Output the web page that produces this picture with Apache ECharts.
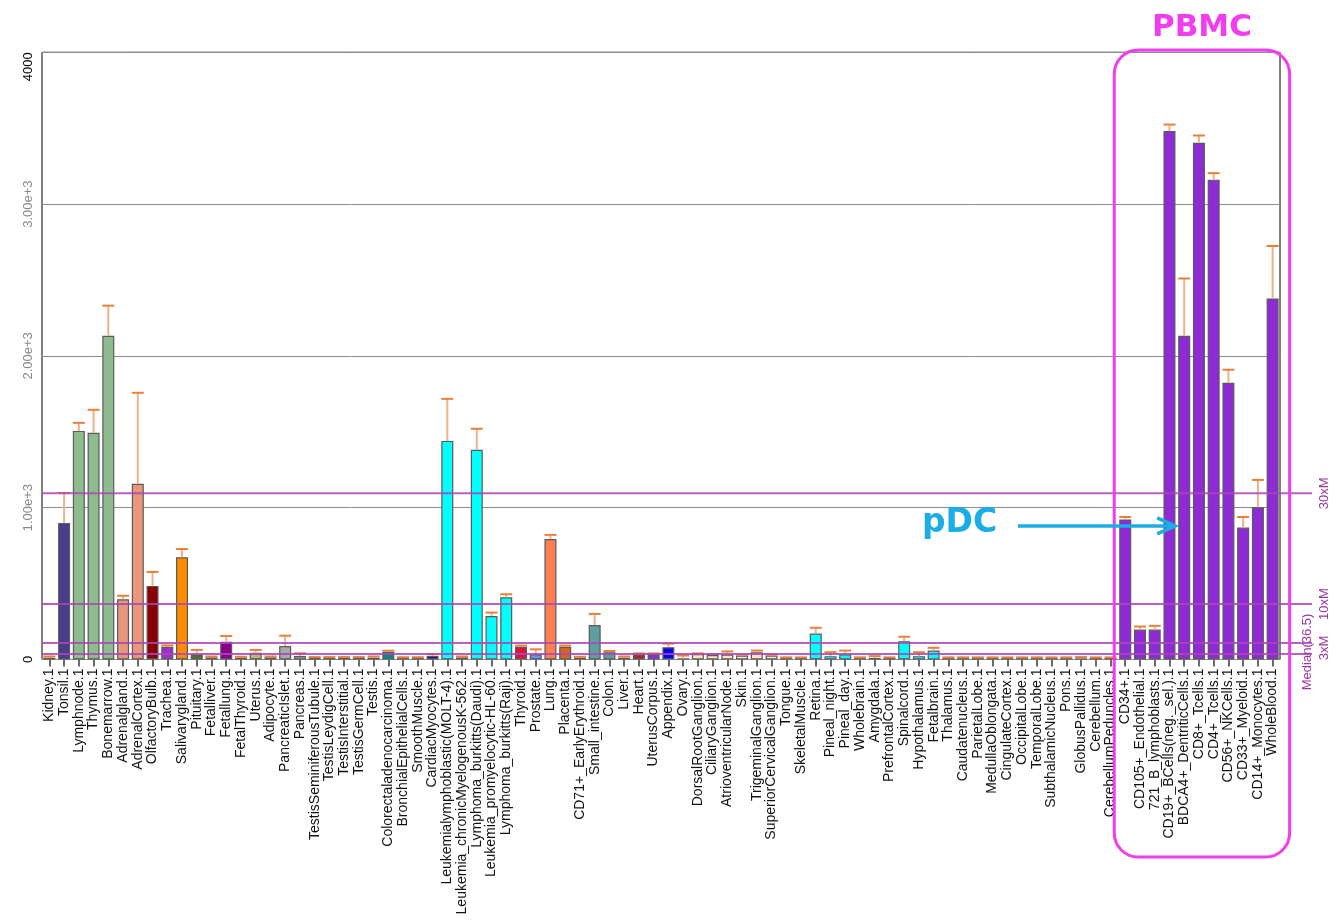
<!DOCTYPE html>
<html><head><meta charset="utf-8">
<script src="https://cdn.jsdelivr.net/npm/echarts@6/dist/echarts.min.js"></script>
<style>html,body{margin:0;padding:0;background:#fff}#c{width:1339px;height:920px}</style>
</head><body><div id="c"></div>
<script>
const categories = ["Kidney.1","Tonsil.1","Lymphnode.1","Thymus.1","Bonemarrow.1","Adrenalgland.1","AdrenalCortex.1","OlfactoryBulb.1","Trachea.1","Salivarygland.1","Pituitary.1","Fetalliver.1","Fetallung.1","FetalThyroid.1","Uterus.1","Adipocyte.1","PancreaticIslet.1","Pancreas.1","TestisSeminiferousTubule.1","TestisLeydigCell.1","TestisInterstitial.1","TestisGermCell.1","Testis.1","Colorectaladenocarcinoma.1","BronchialEpithelialCells.1","SmoothMuscle.1","CardiacMyocytes.1","Leukemialymphoblastic(MOLT-4).1","Leukemia_chronicMyelogenousK-562.1","Lymphoma_burkitts(Daudi).1","Leukemia_promyelocytic-HL-60.1","Lymphoma_burkitts(Raji).1","Thyroid.1","Prostate.1","Lung.1","Placenta.1","CD71+_EarlyErythroid.1","Small_intestine.1","Colon.1","Liver.1","Heart.1","UterusCorpus.1","Appendix.1","Ovary.1","DorsalRootGanglion.1","CiliaryGanglion.1","AtrioventricularNode.1","Skin.1","TrigeminalGanglion.1","SuperiorCervicalGanglion.1","Tongue.1","SkeletalMuscle.1","Retina.1","Pineal_night.1","Pineal_day.1","Wholebrain.1","Amygdala.1","PrefrontalCortex.1","Spinalcord.1","Hypothalamus.1","Fetalbrain.1","Thalamus.1","Caudatenucleus.1","ParietalLobe.1","MedullaOblongata.1","CingulateCortex.1","OccipitalLobe.1","TemporalLobe.1","SubthalamicNucleus.1","Pons.1","GlobusPallidus.1","Cerebellum.1","CerebellumPeduncles.1","CD34+.1","CD105+_Endothelial.1","721_B_lymphoblasts.1","CD19+_BCells(neg._sel.).1","BDCA4+_DentriticCells.1","CD8+_Tcells.1","CD4+_Tcells.1","CD56+_NKCells.1","CD33+_Myeloid.1","CD14+_Monocytes.1","WholeBlood.1"];

const values = [12,900,1506,1493,2133,397,1157,485,84,674,34,14,117,12,45,14,89,23,10,10,10,10,12,51,10,10,23,1440,14,1381,287,410,84,34,794,84,12,227,48,12,34,34,81,8,36,30,33,26,48,26,10,10,171,22,35,10,10,10,121,22,59,10,10,10,10,10,10,10,10,10,8,10,10,923,197,197,3481,2132,3404,3161,1823,869,1003,2378];

const upperValues = [20,1097,1559,1645,2331,420,1757,577,93,728,63,20,155,18,63,20,157,41,16,16,16,16,20,58,15,15,34,1717,20,1520,309,430,92,67,821,92,18,300,56,20,40,40,105,26,40,36,53,32,59,32,14,14,209,48,59,14,22,14,150,48,77,14,14,14,14,14,14,14,14,14,16,14,14,939,217,222,3524,2510,3452,3204,1909,939,1183,2724];

const barColors = ["#6B4E2E","#483D8B","#8FBC8F","#8FBC8F","#8FBC8F","#E9967A","#E9967A","#8B0000","#9932CC","#FF8C00","#556B2F","#8B2252","#8B008B","#8B008B","#BDB76B","#3D7F6F","#A9A9A9","#A9A9A9","#8B6B3D","#8B6B3D","#8B6B3D","#8B6B3D","#8B6B3D","#008B8B","#2F4F4F","#483D8B","#00008B","#00FFFF","#2F6F5F","#00FFFF","#00FFFF","#00FFFF","#DC143C","#6495ED","#FF7F50","#D2691E","#556B2F","#5F9EA0","#5F9EA0","#8B5A2B","#A52A2A","#8A2BE2","#0000FF","#000000","#FFE4C4","#FFE4C4","#FFE4C4","#FFE4C4","#FFE4C4","#FFE4C4","#556B2F","#556B2F","#00FFFF","#00FFFF","#00FFFF","#2F4F4F","#2F4F4F","#2F4F4F","#00FFFF","#00FFFF","#00FFFF","#2F4F4F","#2F4F4F","#2F4F4F","#2F4F4F","#2F4F4F","#2F4F4F","#2F4F4F","#2F4F4F","#2F4F4F","#2F4F4F","#2F4F4F","#2F4F4F","#8E2BD6","#8E2BD6","#8E2BD6","#8E2BD6","#8E2BD6","#8E2BD6","#8E2BD6","#8E2BD6","#8E2BD6","#8E2BD6","#8E2BD6"];

const yTickValues = [0,1000,2000,3000,4000];
const yTickLabels = ["0","1.00e+3","2.00e+3","3.00e+3","4000"];
const thresholds = [36.5,109.5,365,1095];
const thresholdLabels = ["Median(36.5)","3xM","10xM","30xM"];
const pbmcFirst = "CD34+.1", pbmcLast = "WholeBlood.1", pdcTarget = "BDCA4+_DentriticCells.1";
const pdcArrowValue = 880;

const chart = echarts.init(document.getElementById('c'), null, {renderer:'canvas'});
const FONT = "'Liberation Sans', Arial, sans-serif";

chart.setOption({
  animation:false,
  backgroundColor:'#fff',
  textStyle:{fontFamily:FONT},
  grid:{left:42, right:59, top:52.3, bottom:260.5, show:true, borderColor:'#000', borderWidth:1, backgroundColor:'transparent'},
  xAxis:{
    type:'category', data:categories, boundaryGap:true,
    axisLine:{show:false},
    axisTick:{show:true, alignWithLabel:true, length:7, lineStyle:{color:'#6a6a6a', width:2}},
    axisLabel:{interval:0, rotate:90, fontSize:14, color:'#111', margin:9, fontFamily:FONT}
  },
  yAxis:{
    type:'value', min:0, max:4000, interval:1000,
    axisLine:{show:false}, axisTick:{show:false},
    splitLine:{show:true, lineStyle:{color:'#8c8c8c', width:1}},
    axisLabel:{
      rotate:90, margin:7, fontSize:13, alignMaxLabel:'right',
      formatter:function(v){
        const i = yTickValues.indexOf(v);
        const t = i>=0 ? yTickLabels[i] : String(v);
        return (v===0||v===4000) ? '{k|'+t+'}' : '{g|'+t+'}';
      },
      rich:{k:{color:'#000', fontSize:13, fontFamily:FONT}, g:{color:'#888', fontSize:13, fontFamily:FONT}}
    }
  },
  series:[
    {type:'bar', barWidth:12, z:2,
     data:values.map((v,i)=>({value:v, itemStyle:{color:barColors[i], borderColor:'#5a5a5a', borderWidth:1.2}}))},
    {type:'custom', z:3,
     data:values.map((v,i)=>[i, v, upperValues[i]]),
     renderItem:function(params, api){
       const i = api.value(0), v = api.value(1), u = api.value(2);
       const b = api.coord([i, v]), t = api.coord([i, u]);
       const hw = 6;
       return {type:'group', children:[
         {type:'line', shape:{x1:b[0], y1:b[1], x2:t[0], y2:t[1]}, style:{stroke:'#F0B088', lineWidth:2}},
         {type:'line', shape:{x1:t[0]-hw, y1:t[1], x2:t[0]+hw, y2:t[1]}, style:{stroke:'#E8803A', lineWidth:2}}
       ]};
     }}
  ]
});

function px(cat, val){ return chart.convertToPixel({gridIndex:0}, [categories.indexOf(cat), val]); }
const g = [];
thresholds.forEach((th, k)=>{
  const y = chart.convertToPixel({gridIndex:0},[0, th])[1];
  g.push({type:'line', z:10, shape:{x1:42, y1:y, x2:1312, y2:y}, style:{stroke:'rgba(170,70,185,0.85)', lineWidth:2}});
  const isMedian = k===0;
  g.push({type:'text', z:11, x:isMedian?1307:1324, y:isMedian? y-2 : (k===1 ? y+5 : y), rotation:Math.PI/2,
    style:{text:thresholdLabels[k], fill:'#9A35A5', font:"13px "+FONT, align:'center', verticalAlign:'middle'}});
});
const pL = px(pbmcFirst, 0)[0] - 11, pR = px(pbmcLast, 0)[0] + 17;
g.push({type:'rect', z:12, shape:{x:pL, y:50, width:pR-pL, height:807, r:24}, style:{fill:'none', stroke:'#F23DEE', lineWidth:3}});
g.push({type:'text', z:12, x:(pL+pR)/2, y:28, style:{text:'PBMC', fill:'#F23DEE', font:"bold 31px 'DejaVu Sans', sans-serif", align:'center', verticalAlign:'middle'}});
const tgt = px(pdcTarget, pdcArrowValue);
const ay = tgt[1], tipX = tgt[0] - 9;
g.push({type:'text', z:12, x:922, y:ay-2, style:{text:'pDC', fill:'#1AADE6', font:"bold 33px 'DejaVu Sans', sans-serif", align:'left', verticalAlign:'middle'}});
g.push({type:'line', z:12, shape:{x1:1018, y1:ay, x2:tipX-2, y2:ay}, style:{stroke:'#1AADE6', lineWidth:3.5}});
g.push({type:'polyline', z:12, shape:{points:[[tipX-18, ay-8],[tipX, ay],[tipX-18, ay+8]]}, style:{stroke:'#1AADE6', lineWidth:3.5, fill:'none', lineJoin:'miter'}});
chart.setOption({graphic:g});
</script>
</body></html>
